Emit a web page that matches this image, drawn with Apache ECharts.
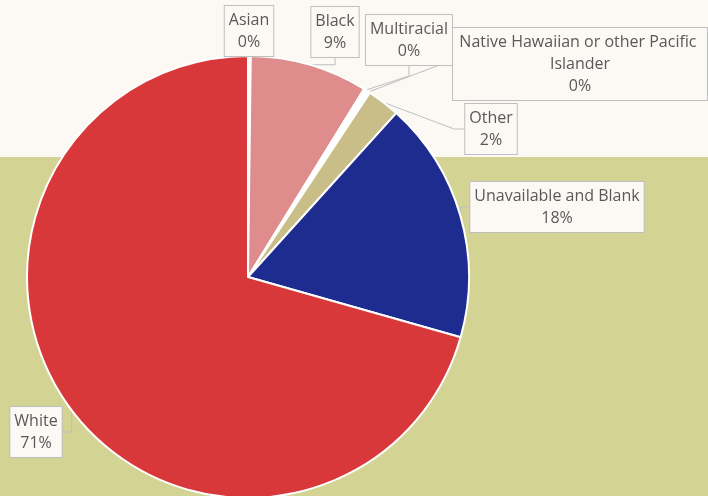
<!DOCTYPE html>
<html><head><meta charset="utf-8">
<script src="https://cdn.jsdelivr.net/npm/echarts@6/dist/echarts.min.js"></script>
<style>html,body{margin:0;padding:0;background:#FCF9F4}#c{width:708px;height:496px}</style>
</head><body><div id="c"></div>
<script>
var categories = ["Asian","Black","Multiracial","Native Hawaiian or other Pacific Islander","Other","Unavailable and Blank","White"];
var values = [0.2, 8.6, 0.3, 0.2, 2.4, 17.7, 70.6];
var colors = ["#FFFFFF","#DE8C8C","#FFFFFF","#FFFFFF","#C9BE87","#1F2C8F","#D9383A"];
// label box centers (layout only)
var labelPos = [[249,31],[335,32],[409,40],[580,64],[491,129],[557,207],[36,432]];

var total = values.reduce(function(a,b){return a+b;},0);
var data = categories.map(function(c,i){
  var d = {name:c, value:values[i], itemStyle:{color:colors[i]}};
  if (i===3) d.label = {width:246, overflow:'break'};
  return d;
});
var chart = echarts.init(document.getElementById('c'), null, {renderer:'canvas'});
chart.setOption({
  backgroundColor:'#FCF9F4',
  animation:false,
  graphic:[{type:'rect', z:-10, silent:true, shape:{x:0,y:157,width:708,height:339}, style:{fill:'#D3D493'}}],
  series:[{
    type:'pie',
    center:[248,277],
    radius:[0,221],
    startAngle:90,
    clockwise:true,
    avoidLabelOverlap:false,
    data:data,
    itemStyle:{borderColor:'#FFFFFF', borderWidth:2},
    label:{
      show:true, position:'outside',
      formatter:function(p){return p.name+'\n'+Math.round(p.value/total*100)+'%';},
      fontFamily:'Open Sans', fontSize:16, lineHeight:22, color:'#595959',
      align:'center',
      backgroundColor:'#FCF9F4', borderColor:'#BFBFBF', borderWidth:1,
      padding:[3,4,3,4]
    },
    labelLine:{show:true, length:10, length2:10, lineStyle:{color:'#BFBFBF', width:1}},
    labelLayout:function(p){
      var pos = labelPos[p.dataIndex];
      return {x:pos[0], y:pos[1], align:'center', verticalAlign:'middle'};
    },
    emphasis:{disabled:true}
  }]
});
</script></body></html>
